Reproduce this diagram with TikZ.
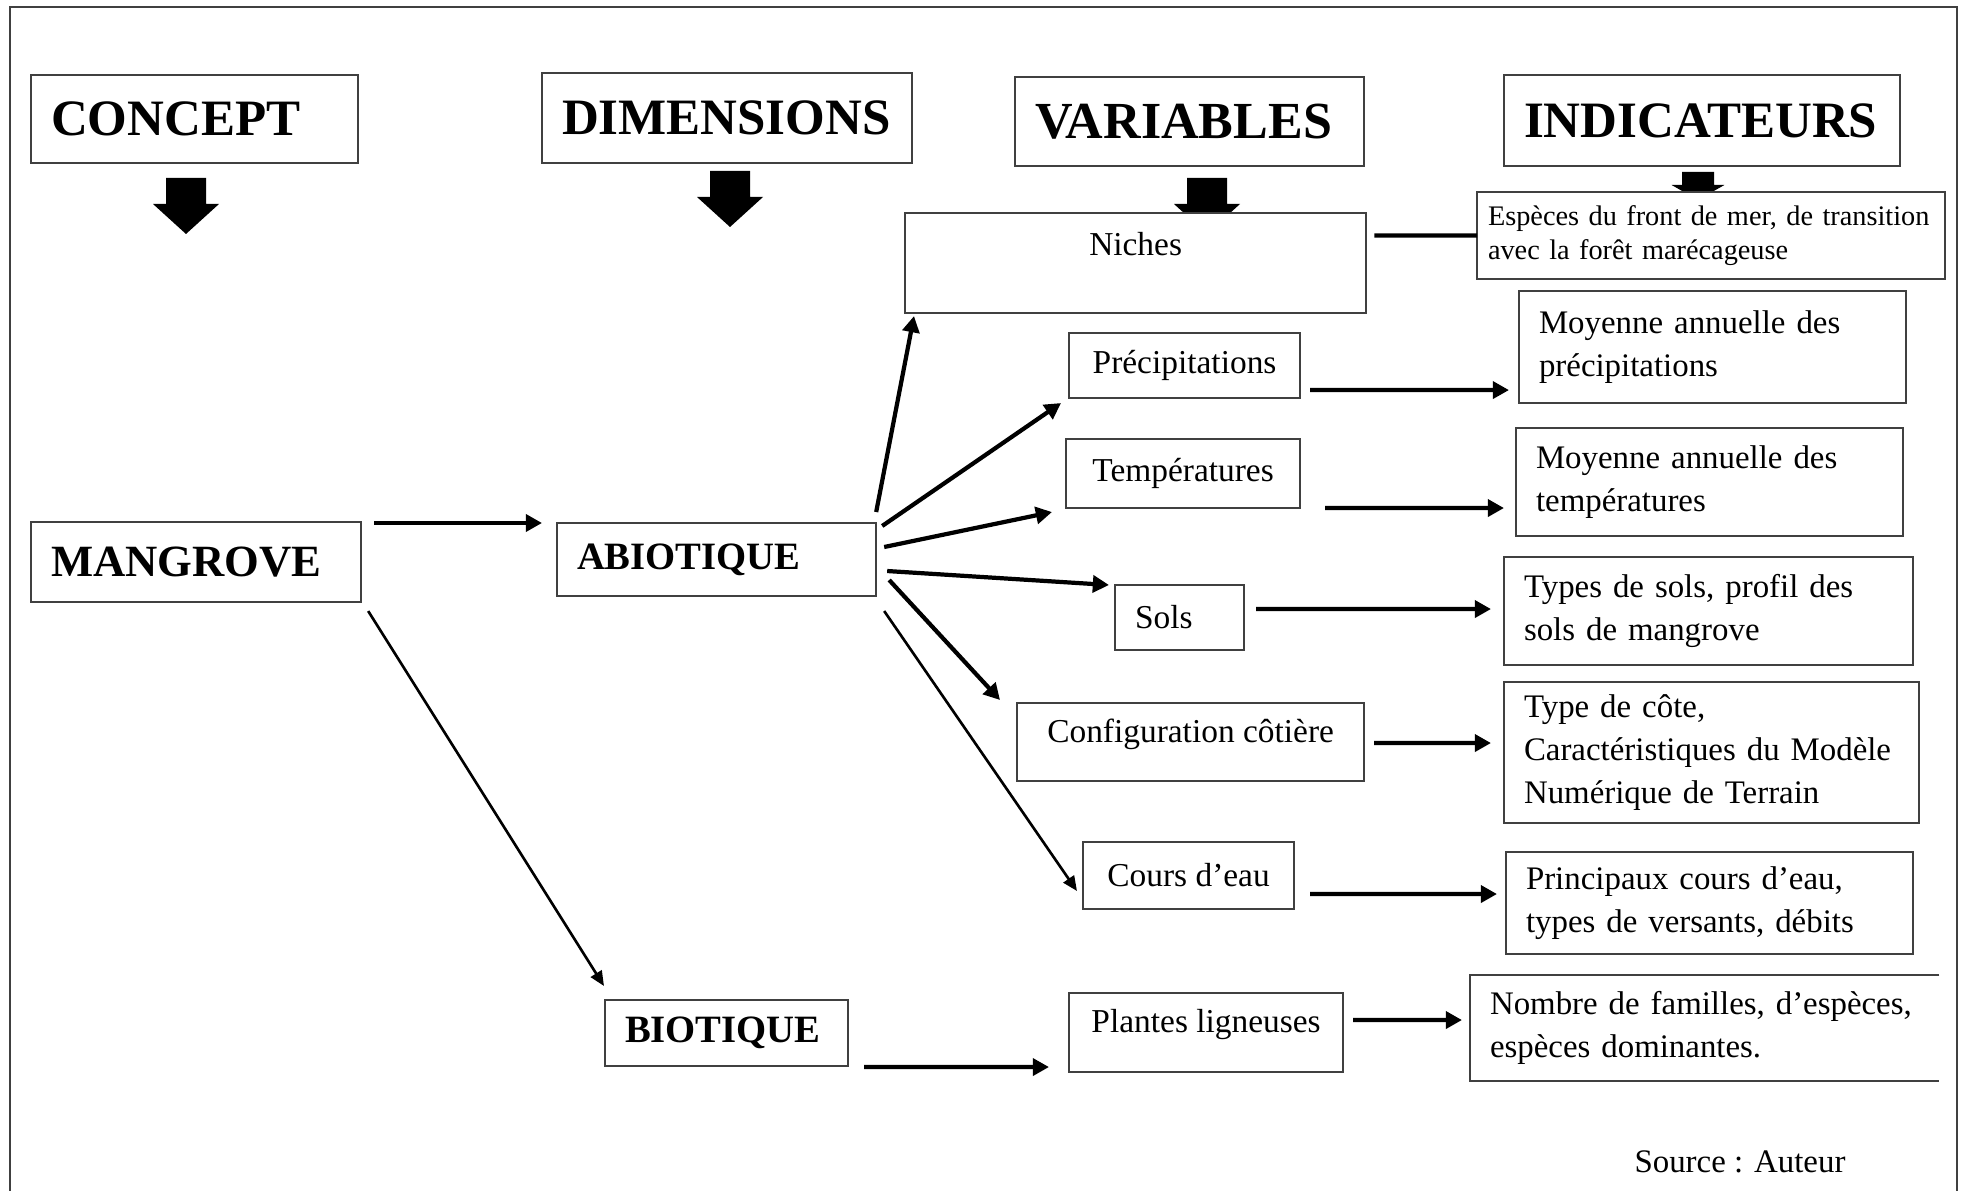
\documentclass[tikz,border=0pt]{standalone}
\usepackage{fontspec}
\setmainfont{Liberation Serif}
\usetikzlibrary{arrows.meta}

\newcommand{\txt}{\fontsize{9.5}{12.1}\selectfont}
\newcommand{\indtxt}{\fontsize{9.35}{12.1}\selectfont}
\newcommand{\smalltxt}{\fontsize{8.05}{9.7}\selectfont}

\begin{document}
\begin{tikzpicture}[x=0.01cm, y=-0.01cm,
  box/.style={draw=black!75, line width=0.6pt, fill=white, inner ysep=0pt, inner xsep=0.2cm, outer sep=0pt, anchor=north west},
  headbox/.style={box, font={\bfseries\fontsize{14.5}{16}\selectfont}, align=left},
  dimbox/.style={box, font={\bfseries\fontsize{11}{13}\selectfont}, align=left},
  varbox/.style={box, font=\txt, align=center},
  indbox/.style={box, font=\indtxt, align=left},
  arr/.style={-{Triangle[length=4.6pt,width=4.8pt]}, line width=1.2pt},
  thinarr/.style={-{Triangle[length=4.2pt,width=3.6pt]}, line width=0.75pt},
  link/.style={line width=1.2pt},
  blockdown/.pic={\fill[black] (-20,0) -- (20,0) -- (20,26) -- (33,26) -- (0,56) -- (-33,26) -- (-20,26) -- cycle;}
]
\useasboundingbox (0,0) rectangle (1968,1191);

% Outer frame (open at the bottom)
\draw[line width=0.6pt, black!75] (10,1191) -- (10,7) -- (1957,7) -- (1957,1191);

% Column titles
\node[headbox, minimum height=0.88cm, text width=2.87cm] (concept) at (31,75) {CONCEPT};
\node[headbox, minimum height=0.90cm, text width=3.30cm] (dims) at (542,73) {DIMENSIONS};
\node[headbox, font={\bfseries\fontsize{14.8}{16}\selectfont}, minimum height=0.89cm, text width=3.09cm] (vars) at (1015,77) {VARIABLES};
\node[headbox, minimum height=0.91cm, text width=3.56cm] (indic) at (1504,75) {INDICATEURS};

% Big arrows under the titles
\pic at (186,178) {blockdown};
\pic at (730,171) {blockdown};
\pic at (1207,178) {blockdown};
\pic[xscale=0.8, yscale=0.5] at (1698,172) {blockdown};

% Concept and dimensions
\node[dimbox, font={\bfseries\fontsize{12.7}{15}\selectfont}, minimum height=0.80cm, text width=2.90cm] (mang) at (31,522) {MANGROVE};
\node[dimbox, minimum height=0.73cm, text width=2.79cm] (abio) at (557,523) {ABIOTIQUE};
\node[dimbox, minimum height=0.66cm, text width=2.03cm] (bio) at (605,1000) {BIOTIQUE};

% Variables
\node[varbox, minimum width=4.61cm, minimum height=1.00cm, text depth=11pt] (niches) at (905,213) {Niches};
\node[varbox, minimum width=2.31cm, minimum height=0.65cm] (prec) at (1069,333) {Précipitations};
\node[varbox, minimum width=2.34cm, minimum height=0.69cm] (temp) at (1066,439) {Températures};
\node[varbox, align=left, minimum height=0.65cm, text width=0.89cm] (sols) at (1115,585) {Sols};
\node[varbox, minimum width=3.47cm, minimum height=0.78cm, text depth=6.6pt] (config) at (1017,703) {Configuration côtière};
\node[varbox, minimum width=2.11cm, minimum height=0.67cm] (cours) at (1083,842) {Cours d’eau};
\node[varbox, minimum width=2.74cm, minimum height=0.79cm, text depth=6.6pt] (plantes) at (1069,993) {Plantes ligneuses};

% Indicators
\node[indbox, font=\smalltxt, inner xsep=0.11cm, minimum height=0.87cm, text width=4.46cm] (especes) at (1477,192) {Espèces du front de mer, de transition\\avec la forêt marécageuse};
\node[indbox, minimum height=1.12cm, text width=3.47cm] (mprec) at (1519,291) {Moyenne annuelle des\\précipitations};
\node[indbox, minimum height=1.08cm, text width=3.47cm] (mtemp) at (1516,428) {Moyenne annuelle des\\températures};
\node[indbox, minimum height=1.08cm, text width=3.69cm] (msols) at (1504,557) {Types de sols, profil des\\sols de mangrove};
\node[indbox, minimum height=1.41cm, text width=3.75cm] (mconfig) at (1504,682) {Type de côte,\\Caractéristiques du Modèle\\Numérique de Terrain};
\node[indbox, minimum height=1.02cm, text width=3.67cm] (mcours) at (1506,852) {Principaux cours d’eau,\\types de versants, débits};
\node[indbox, draw=none, minimum height=1.06cm, text width=4.29cm] (mplantes) at (1470,975) {Nombre de familles, d’espèces,\\espèces dominantes.};
\draw[line width=0.6pt, black!75] (mplantes.north east) -- (mplantes.north west) -- (mplantes.south west) -- (mplantes.south east);

\node[font=\indtxt] (source) at (1740,1162) {Source : Auteur};

% Concept -> dimensions
\draw[arr] ([shift={(13,1)}]mang.north east) -- ([shift={(-15,0)}]abio.north west);
\draw[thinarr] ([shift={(7,9)}]mang.south east) -- ([shift={(-1,-14)}]bio.north west);

% Abiotique -> variables
\draw[arr] ([shift={(0,-11)}]abio.north east) -- ([shift={(9,3)}]niches.south west);
\draw[arr] ([shift={(6,3)}]abio.north east) -- ([shift={(-8,5)}]prec.south west);
\draw[arr] ([shift={(8,-12.5)}]abio.east) -- ([shift={(-14,4)}]temp.south west);
\draw[arr] ([shift={(11,11.5)}]abio.east) -- ([shift={(-6,0)}]sols.north west);
\draw[arr] ([shift={(13,20.5)}]abio.east) -- ([shift={(-17,-3)}]config.north west);
\draw[thinarr] ([shift={(8,15)}]abio.south east) -- ([shift={(-6,15.5)}]cours.west);

% Biotique -> variables
\draw[arr] ([shift={(16,1)}]bio.south east) -- ([shift={(-20,-5)}]plantes.south west);

% Variables -> indicators
\draw[link] ([shift={(8,22.5)}]niches.north east) -- (especes.west);
\draw[arr] ([shift={(10,-8)}]prec.south east) -- ([shift={(-10,-13)}]mprec.south west);
\draw[arr] ([shift={(25,0)}]temp.south east) -- ([shift={(-12,26)}]mtemp.west);
\draw[arr] ([shift={(12,-8.5)}]sols.east) -- ([shift={(-13,-2)}]msols.west);
\draw[arr] ([shift={(10,1)}]config.east) -- ([shift={(-13,-9.5)}]mconfig.west);
\draw[arr] ([shift={(16,-15)}]cours.south east) -- ([shift={(-9,-9)}]mcours.west);
\draw[arr] ([shift={(10,-12.5)}]plantes.east) -- ([shift={(-8,-8)}]mplantes.west);

\end{tikzpicture}
\end{document}
